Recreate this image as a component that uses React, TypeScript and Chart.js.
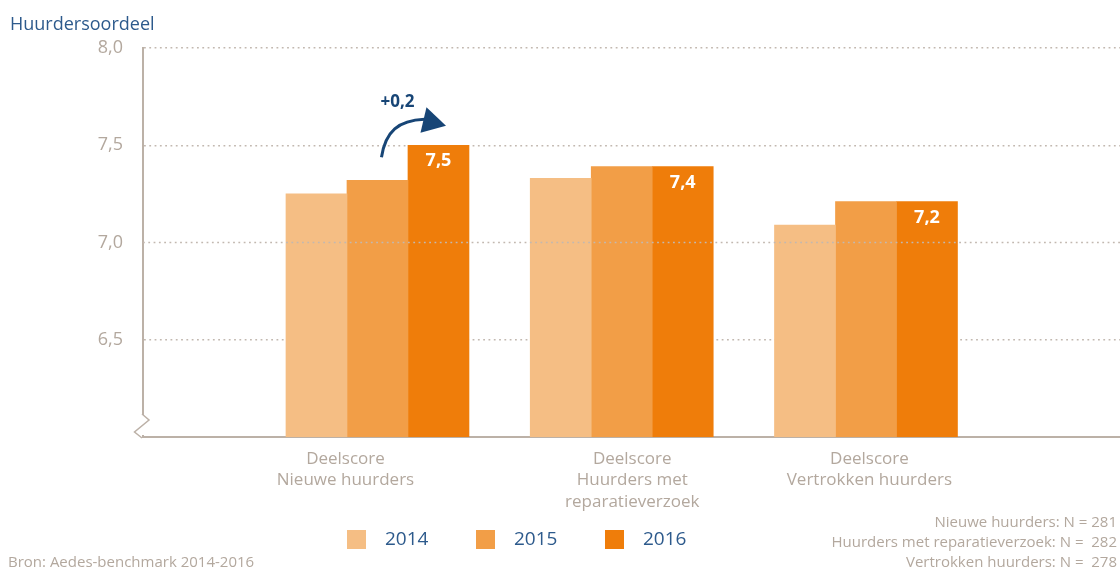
import React, { useEffect, useRef } from 'react';
import { Chart, registerables } from 'chart.js';

Chart.register(...registerables);

// ---------- data ----------
const categoryLabels: string[][] = [
  ['Deelscore', 'Nieuwe huurders'],
  ['Deelscore', 'Huurders met', 'reparatieverzoek'],
  ['Deelscore', 'Vertrokken huurders'],
];
const seriesLabels = ['2014', '2015', '2016'];
const values2014 = [7.25, 7.33, 7.09];
const values2015 = [7.32, 7.39, 7.21];
const values2016 = [7.5, 7.39, 7.21];
const seriesValues = [values2014, values2015, values2016];
const yMin = 6;
const yMax = 8;
const yStep = 0.5;
const titleText = 'Huurdersoordeel';
const changeLabel = '+0,2';
const sourceText = 'Bron: Aedes-benchmark 2014-2016';
const noteLines = [
  'Nieuwe huurders: N = 281',
  'Huurders met reparatieverzoek: N =  282',
  'Vertrokken huurders: N =  278',
];

// ---------- styles ----------
const FONT = "'Open Sans', 'DejaVu Sans', sans-serif";
const seriesColors = ['#f5be84', '#f29e47', '#ef7d0a'];
const GRAY_TEXT = '#b3a89e';
const AXIS = '#bcb1a7';
const GRID = '#c2b8b0';
const BLUE = '#2d5a8c';
const DARK_BLUE = '#174576';
const GRID_DASH = [1.8, 3.5];
// horizontal nudge of each category label (in category units), as placed in the original
const labelNudge = [-0.131, 0.043, 0.014];

const fmt = (v: number) => v.toFixed(1).replace('.', ',');

const decorPlugin = {
  id: 'decor',
  afterDatasetsDraw(chart: any) {
    const { ctx, chartArea, scales } = chart;
    const y = scales.y;
    // dotted 7,0 gridline drawn over the bars
    const y7 = y.getPixelForValue(7);
    ctx.save();
    ctx.strokeStyle = GRID;
    ctx.lineWidth = 1.5;
    ctx.setLineDash(GRID_DASH);
    ctx.beginPath();
    ctx.moveTo(chartArea.left, y7);
    ctx.lineTo(chartArea.right, y7);
    ctx.stroke();
    ctx.restore();

    // value labels inside 2016 bars
    const meta = chart.getDatasetMeta(2);
    ctx.save();
    ctx.fillStyle = '#ffffff';
    ctx.font = `bold 18px ${FONT}`;
    ctx.textAlign = 'center';
    ctx.textBaseline = 'middle';
    meta.data.forEach((el: any, i: number) => {
      ctx.fillText(fmt(values2016[i]), el.x, el.y + 16);
    });
    ctx.restore();

    // change annotation over first group
    const el = meta.data[0];
    const bx = el.x;
    const by = el.y;
    ctx.save();
    ctx.strokeStyle = DARK_BLUE;
    ctx.fillStyle = DARK_BLUE;
    ctx.lineWidth = 3;
    ctx.beginPath();
    ctx.moveTo(bx - 57, by + 12);
    ctx.bezierCurveTo(bx - 53, by - 14, bx - 40, by - 25, bx - 14, by - 26);
    ctx.stroke();
    ctx.beginPath();
    ctx.moveTo(bx + 7.5, by - 19.5);
    ctx.lineTo(bx - 12, by - 38);
    ctx.lineTo(bx - 18, by - 12.5);
    ctx.closePath();
    ctx.fill();
    ctx.font = `bold 17px ${FONT}`;
    ctx.textAlign = 'center';
    ctx.textBaseline = 'middle';
    ctx.fillText(changeLabel, bx - 41, by - 43);
    ctx.restore();
  },
  afterDraw(chart: any) {
    const { ctx, chartArea, width, height } = chart;
    // axis break mark
    ctx.save();
    ctx.fillStyle = '#ffffff';
    ctx.fillRect(chartArea.left - 2, chartArea.bottom - 22, 4, 20);
    ctx.strokeStyle = AXIS;
    ctx.lineWidth = 1.5;
    ctx.beginPath();
    ctx.moveTo(chartArea.left - 1, chartArea.bottom - 23);
    ctx.lineTo(chartArea.left + 6, chartArea.bottom - 17);
    ctx.lineTo(chartArea.left - 8.5, chartArea.bottom - 5);
    ctx.lineTo(chartArea.left - 1, chartArea.bottom + 1);
    ctx.stroke();
    ctx.restore();

    // legend
    ctx.save();
    ctx.font = `19px ${FONT}`;
    ctx.textBaseline = 'middle';
    ctx.textAlign = 'left';
    const legendLeft = 347;
    const legendTop = 530;
    const step = 129;
    const box = 19;
    chart.data.datasets.forEach((ds: any, i: number) => {
      const x = legendLeft + i * step;
      ctx.fillStyle = ds.backgroundColor;
      ctx.fillRect(x, legendTop, box, box);
      ctx.fillStyle = BLUE;
      ctx.fillText(ds.label, x + box + 19, legendTop + box / 2);
    });
    ctx.restore();

    // source and notes
    ctx.save();
    ctx.fillStyle = GRAY_TEXT;
    ctx.font = `15px ${FONT}`;
    ctx.textBaseline = 'middle';
    ctx.textAlign = 'left';
    ctx.fillText(sourceText, 8, height - 6);
    ctx.textAlign = 'right';
    noteLines.forEach((line, i) => {
      ctx.fillText(line, width - 3, height - 46 + i * 20);
    });
    ctx.restore();
  },
};

export default function App() {
  const ref = useRef<HTMLCanvasElement>(null);
  useEffect(() => {
    if (!ref.current) return;
    Chart.defaults.font.family = FONT;
    const chart = new Chart(ref.current, {
      type: 'bar',
      data: {
        datasets: seriesLabels.map((label, s) => ({
          label,
          data: seriesValues[s].map((v, i) => ({ x: i + 1, y: v })),
          backgroundColor: seriesColors[s],
          borderWidth: 0,
          barThickness: 61,
        })),
      },
      options: {
        animation: false,
        responsive: true,
        maintainAspectRatio: false,
        layout: { padding: { left: 10, right: 0, top: 0, bottom: 0 } },
        plugins: {
          legend: { display: false },
          tooltip: { enabled: false },
          title: {
            display: true,
            text: titleText,
            align: 'start',
            color: BLUE,
            font: { family: FONT, size: 18, weight: 'normal', lineHeight: 1.2 },
            padding: { top: 14, bottom: 12.4 },
          },
        },
        scales: {
          x: {
            type: 'linear',
            min: 0.04,
            max: 4.04,
            offset: false,
            afterBuildTicks: (axis: any) => {
              axis.ticks = categoryLabels.map((_, i) => ({ value: i + 1 + labelNudge[i] }));
            },
            afterFit: (scale: any) => {
              scale.height = 132;
            },
            grid: { display: false, drawTicks: false },
            border: { display: true, color: AXIS, width: 2 },
            ticks: {
              autoSkip: false,
              maxRotation: 0,
              padding: 11,
              color: GRAY_TEXT,
              font: { family: FONT, size: 17, lineHeight: 1.265 },
              callback: (_v: any, index: number) => categoryLabels[index] ?? '',
            },
          },
          y: {
            min: yMin,
            max: yMax,
            afterFit: (scale: any) => {
              scale.width = 133;
            },
            grid: {
              drawTicks: false,
              lineWidth: 1.5,
              color: (c: any) =>
                c.tick && (c.tick.value === yMin || c.tick.value === 7) ? 'rgba(0,0,0,0)' : GRID,
            },
            border: { display: true, color: AXIS, width: 2, dash: GRID_DASH },
            ticks: {
              stepSize: yStep,
              padding: 20,
              color: GRAY_TEXT,
              font: { family: FONT, size: 18 },
              callback: (v: any) => (Number(v) === yMin ? '' : fmt(Number(v))),
            },
          },
        },
      },
      plugins: [decorPlugin],
    } as any);
    return () => chart.destroy();
  }, []);
  return (
    <div style={{ position: 'absolute', left: 0, top: 0, width: 1120, height: 569, background: '#ffffff' }}>
      <canvas ref={ref} />
    </div>
  );
}
